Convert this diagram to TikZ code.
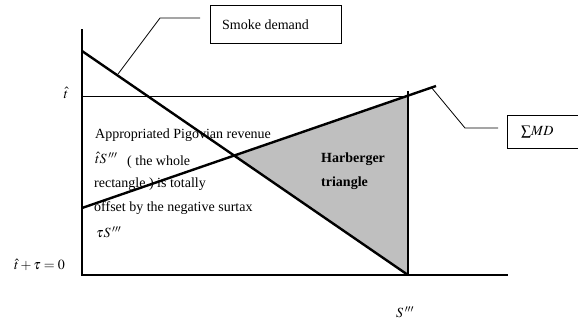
\documentclass[tikz,border=0pt]{standalone}
\usepackage{mathptmx}
\usepackage{fontspec}
\setmainfont{Liberation Serif}
\begin{document}
\begin{tikzpicture}[x=1pt,y=-1pt,
  font=\fontsize{14}{16}\selectfont,
  axis/.style={line width=1.1pt},
  thinline/.style={line width=0.8pt},
  thickline/.style={line width=2.4pt},
  labelbox/.style={draw, line width=0.8pt, inner sep=0pt},
  txt/.style={anchor=west, inner sep=0pt}]
\useasboundingbox (0,0) rectangle (578,324);
% key points
\coordinate (O) at (82,275);
\coordinate (Ytop) at (82,29);
\coordinate (Xend) at (508,275);
\coordinate (T) at (82,96);
\coordinate (TS) at (408,96);
\coordinate (SV) at (408,91);
\coordinate (S) at (408,275);
\coordinate (D0) at (82,51);
\coordinate (M0) at (82,208);
\coordinate (M1) at (436,86);
\coordinate (X) at (234,155.6);
\coordinate (MS) at (408,95.6);
% Harberger triangle
\fill[gray!50] (X) -- (MS) -- (S) -- cycle;
% axes and rectangle
\draw[axis] (Ytop) -- (O) -- (Xend);
\draw[thinline] (T) -- (TS);
\draw[axis] (SV) -- (S);
% curves
\draw[thickline] (D0) -- (S);
\draw[thickline] (M0) -- (M1);
% labels boxes
\node[labelbox, anchor=north west, minimum width=131, minimum height=38] (smoke) at (210,5) {};
\node[txt] (smoketxt) at (222,25) {Smoke demand};
\node[labelbox, anchor=north west, minimum width=72, minimum height=33] (md) at (507,115) {};
\node[txt] (mdtxt) at (521,132) {$\sum \!MD$};
% leaders
\coordinate (sl0) at (200,18);
\coordinate (sl1) at (160,18);
\coordinate (sl2) at (118,74);
\draw[thinline] (sl0) -- (sl1) -- (sl2);
\coordinate (ml0) at (498,128);
\coordinate (ml1) at (465,128);
\coordinate (ml2) at (431,87);
\draw[thinline] (ml0) -- (ml1) -- (ml2);
% axis labels
\node (that) at (66,93) {$\hat{t}$};
\node[anchor=east, inner sep=0pt] (zero) at (65,265) {$\hat{t}+\tau=0$};
\node (sppp) at (405,312) {$S\,'''$};
% text
\node[txt] (t1) at (95,135) {Appropriated Pigovian revenue};
\node[txt] (t2) at (95,158) {$\hat{t}S\,'''$};
\node[txt] (t2b) at (127,162) {( the whole};
\node[txt] (t3) at (94,184) {rectangle ) is totally};
\node[txt] (t4) at (94,208) {offset by the negative surtax};
\node[txt] (t5) at (96,232) {$\tau S\,'''$};
\node[txt, font=\fontsize{14}{16}\selectfont\bfseries] (h1) at (321,159) {Harberger};
\node[txt, font=\fontsize{14}{16}\selectfont\bfseries] (h2) at (321,183) {triangle};
\end{tikzpicture}
\end{document}
